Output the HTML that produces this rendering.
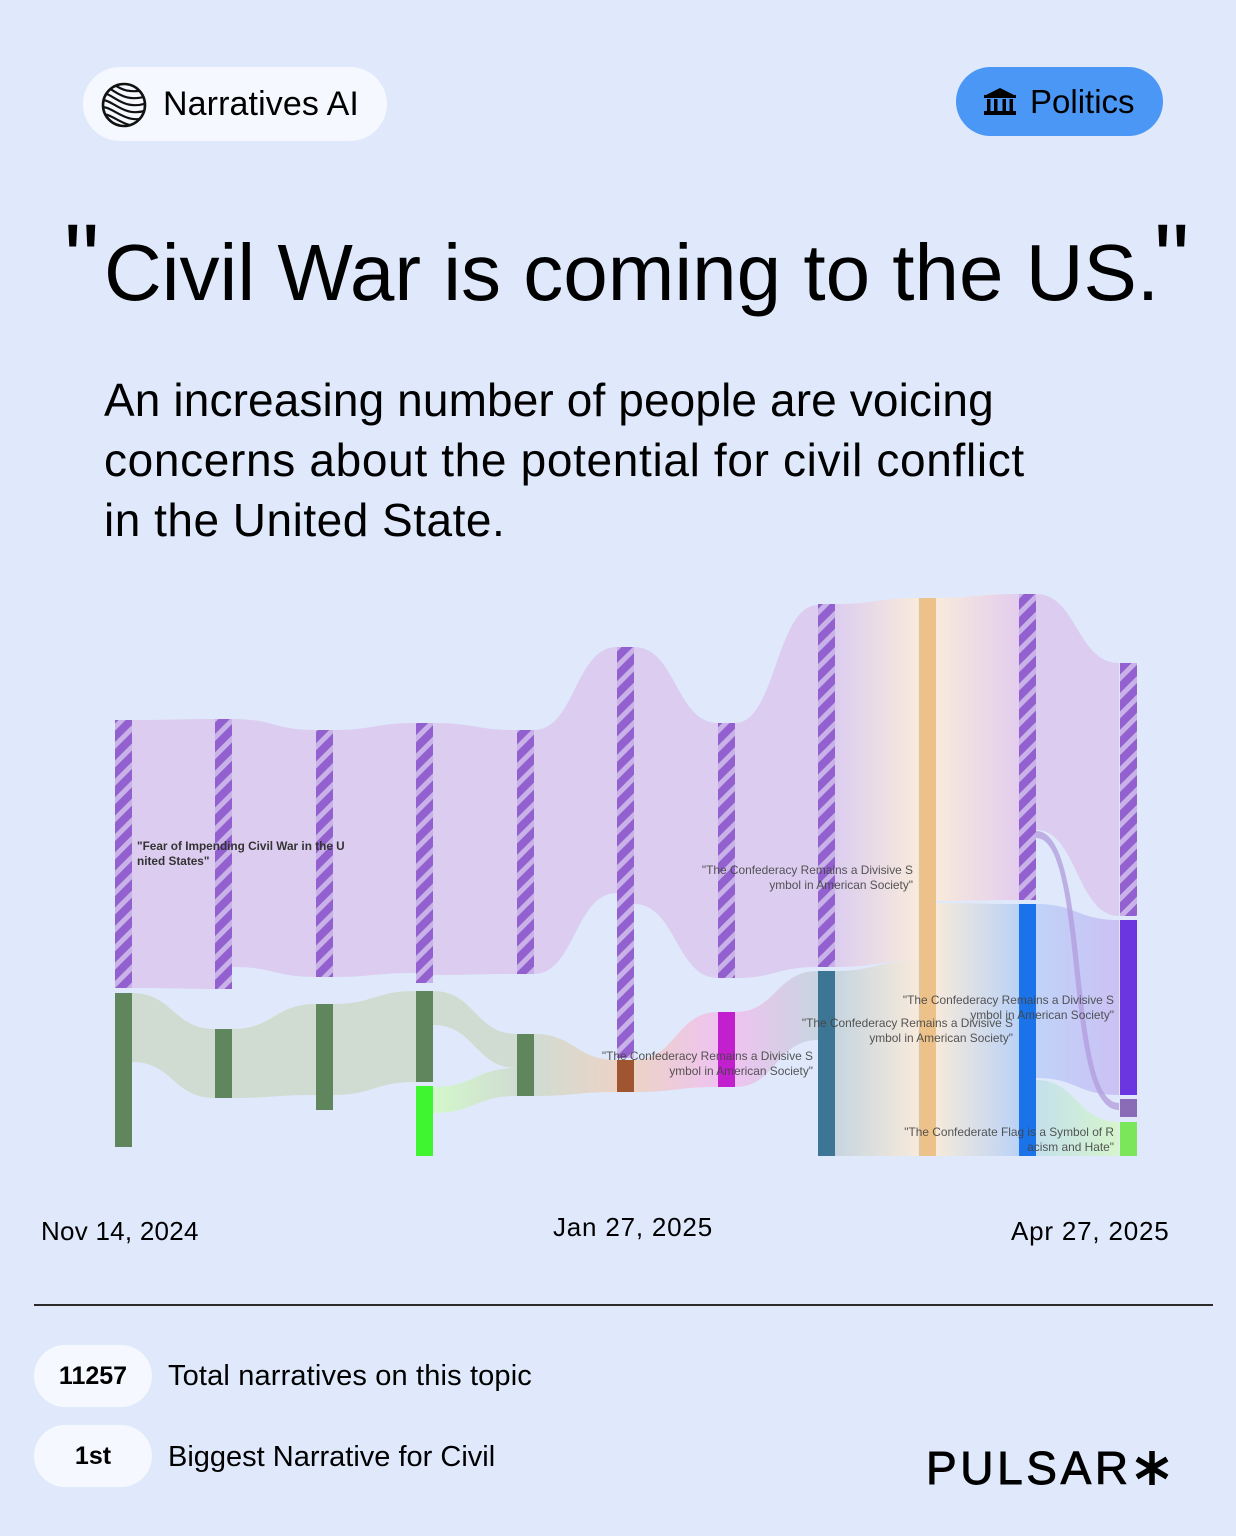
<!DOCTYPE html>
<html><head><meta charset="utf-8">
<style>
html,body{margin:0;padding:0;}
body{width:1236px;height:1536px;background:#dfe9fb;position:relative;overflow:hidden;font-family:"Liberation Sans",Arial,sans-serif;color:#000;}
.abs{position:absolute;white-space:nowrap;}
.pill{position:absolute;border-radius:40px;}
</style></head><body>

<!-- Header pills -->
<div class="pill" style="left:83px;top:67px;width:304px;height:74px;background:#f6f8ff;"></div>
<svg class="abs" style="left:0;top:0" width="1236" height="160">
  <defs><clipPath id="cc"><circle cx="124" cy="105" r="21"/></clipPath></defs>
  <g clip-path="url(#cc)" fill="none" stroke="#111" stroke-width="2.2">
    <path d="M98 80 C112 74 116 100 150 88"/>
    <path d="M98 87 C112 81 118 107 150 95"/>
    <path d="M98 94 C112 88 120 114 150 102"/>
    <path d="M98 101 C112 95 122 121 150 109"/>
    <path d="M98 108 C112 102 124 128 150 116"/>
    <path d="M98 115 C112 109 126 135 150 123"/>
    <path d="M98 122 C112 116 128 142 150 130"/>
  </g>
  <circle cx="124" cy="105" r="21" fill="none" stroke="#111" stroke-width="2.6"/>
</svg>
<div class="abs" style="left:163px;top:84px;font-size:34px;line-height:40px;letter-spacing:0.1px;">Narratives AI</div>

<div class="pill" style="left:956px;top:67px;width:207px;height:69px;background:#4b97f5;"></div>
<svg class="abs" style="left:980px;top:84px" width="40" height="34">
  <polygon points="4,12 20,4 36,12" fill="#000"/>
  <rect x="4" y="11" width="32" height="3" fill="#000"/>
  <rect x="7" y="15" width="3.5" height="12" fill="#000"/>
  <rect x="14" y="15" width="3.5" height="12" fill="#000"/>
  <rect x="22.5" y="15" width="3.5" height="12" fill="#000"/>
  <rect x="29.5" y="15" width="3.5" height="12" fill="#000"/>
  <rect x="4" y="27" width="32" height="4" fill="#000"/>
</svg>
<div class="abs" style="left:1030px;top:82px;font-size:33px;line-height:40px;">Politics</div>

<!-- Title -->
<div class="abs" style="left:64px;top:210px;font-size:100px;line-height:100px;">"</div>
<div class="abs" style="left:104px;top:227px;font-size:80px;line-height:92px;letter-spacing:0px;">Civil War is coming to the US.</div>
<div class="abs" style="left:1154px;top:210px;font-size:100px;line-height:100px;">"</div>

<!-- Subtitle -->
<div class="abs" style="left:104px;top:370px;font-size:46px;line-height:60px;letter-spacing:0.12px;">An increasing number of people are voicing</div>
<div class="abs" style="left:104px;top:430px;font-size:46px;line-height:60px;letter-spacing:0.66px;">concerns about the potential for civil conflict</div>
<div class="abs" style="left:104px;top:490px;font-size:46px;line-height:60px;letter-spacing:0.5px;">in the United State.</div>

<!-- Chart -->
<svg class="abs" style="left:0;top:0" width="1236" height="1200">
  <defs>
    <pattern id="stripes" patternUnits="userSpaceOnUse" width="13" height="13" patternTransform="rotate(-45)">
      <rect x="0" y="0" width="13" height="13" fill="#c9b2e8"/>
      <rect x="0" y="0" width="13" height="8" fill="#9360cf"/>
    </pattern>
    <linearGradient id="g89p" x1="0" x2="1"><stop offset="0" stop-color="#dccdf0"/><stop offset="1" stop-color="#f8eadb"/></linearGradient>
    <linearGradient id="g89t" x1="0" x2="1"><stop offset="0" stop-color="#c6d5e0"/><stop offset="1" stop-color="#f7eadb"/></linearGradient>
    <linearGradient id="g910p" x1="0" x2="1"><stop offset="0" stop-color="#f8eadb"/><stop offset="1" stop-color="#e3cdee"/></linearGradient>
    <linearGradient id="g910b" x1="0" x2="1"><stop offset="0" stop-color="#f6eadb"/><stop offset="1" stop-color="#bad2f7"/></linearGradient>
    <linearGradient id="g1011b" x1="0" x2="1"><stop offset="0" stop-color="#c0d3f8"/><stop offset="1" stop-color="#cbc1f3"/></linearGradient>
    <linearGradient id="g1011g" x1="0" x2="1"><stop offset="0" stop-color="#c4e0ec"/><stop offset="1" stop-color="#d6f5cc"/></linearGradient>
    <linearGradient id="g45b" x1="0" x2="1"><stop offset="0" stop-color="#d3f7cb"/><stop offset="1" stop-color="#d0dcd2"/></linearGradient>
    <linearGradient id="g56" x1="0" x2="1"><stop offset="0" stop-color="#d0dcd2"/><stop offset="1" stop-color="#ecd3c6"/></linearGradient>
    <linearGradient id="g67" x1="0" x2="1"><stop offset="0" stop-color="#ecd3c6"/><stop offset="1" stop-color="#eec3f0"/></linearGradient>
    <linearGradient id="g78" x1="0" x2="1"><stop offset="0" stop-color="#eec3f0"/><stop offset="1" stop-color="#c8d5e0"/></linearGradient>
  </defs>

  <!-- purple flows -->
  <g fill="#dccdf0">
    <path d="M132 720 C173 720 173 719 215 719 L215 989 C173 989 173 988 132 988 Z"/>
    <path d="M232 719 C274 719 274 730 316 730 L316 977 C274 977 274 967 232 967 Z"/>
    <path d="M333 730 C374 730 374 723 416 723 L416 973 C374 973 374 977 333 977 Z"/>
    <path d="M433 723 C475 723 475 730 517 730 L517 974 C475 974 475 975 433 975 Z"/>
    <path d="M534 730 C575 730 575 647 617 647 L617 893 C575 893 575 974 534 974 Z"/>
    <path d="M634 647 C676 647 676 723 718 723 L718 978 C676 978 676 904 634 904 Z"/>
    <path d="M735 723 C776 723 776 605 818 605 L818 967 C776 967 776 978 735 978 Z"/>
    <path d="M1036 594 C1077 594 1077 663 1119 663 L1119 916 C1077 916 1077 830 1036 830 Z"/>
  </g>
  <path d="M835 604 C876 604 876 598 918 598 L918 961 C876 961 876 967 835 967 Z" fill="url(#g89p)"/>
  <path d="M835 971 C876 971 876 961 918 961 L918 1156 C876 1156 876 1156 835 1156 Z" fill="url(#g89t)"/>
  <path d="M936 598 C977 598 977 594 1019 594 L1019 900 C977 900 977 901 936 901 Z" fill="url(#g910p)"/>
  <path d="M936 903 C977 903 977 904 1019 904 L1019 1156 C977 1156 977 1156 936 1156 Z" fill="url(#g910b)"/>
  <path d="M1036 904 C1077 904 1077 920 1119 920 L1119 1095 C1077 1095 1077 1078 1036 1078 Z" fill="url(#g1011b)"/>
  <path d="M1036 1080 C1077 1080 1077 1122 1119 1122 L1119 1156 C1077 1156 1077 1156 1036 1156 Z" fill="url(#g1011g)"/>
  <path d="M1036 831 C1092 831 1068 1103 1119 1103 L1119 1110 C1062 1110 1086 838 1036 838 Z" fill="#b19bdc" opacity="0.75"/>

  <!-- green flows -->
  <g fill="#d0dcd2">
    <path d="M132 993 C173 993 173 1029 215 1029 L215 1098 C173 1098 173 1062 132 1062 Z"/>
    <path d="M232 1029 C274 1029 274 1004 316 1004 L316 1095 C274 1095 274 1098 232 1098 Z"/>
    <path d="M333 1004 C374 1004 374 991 416 991 L416 1082 C374 1082 374 1095 333 1095 Z"/>
    <path d="M433 991 C475 991 475 1034 517 1034 L517 1068 C475 1068 475 1025 433 1025 Z"/>
  </g>
  <path d="M433 1087 C475 1087 475 1068 517 1068 L517 1096 C475 1096 475 1113 433 1113 Z" fill="url(#g45b)"/>
  <path d="M534 1034 C575 1034 575 1060 617 1060 L617 1092 C575 1092 575 1096 534 1096 Z" fill="url(#g56)"/>
  <path d="M634 1060 C676 1060 676 1012 718 1012 L718 1087 C676 1087 676 1092 634 1092 Z" fill="url(#g67)"/>
  <path d="M735 1012 C776 1012 776 971 818 971 L818 1040 C776 1040 776 1087 735 1087 Z" fill="url(#g78)"/>

  <!-- bars -->
  <g fill="url(#stripes)">
    <rect x="115" y="720" width="17" height="268"/>
    <rect x="215" y="719" width="17" height="270"/>
    <rect x="316" y="730" width="17" height="247"/>
    <rect x="416" y="723" width="17" height="260"/>
    <rect x="517" y="730" width="17" height="244"/>
    <rect x="617" y="647" width="17" height="411"/>
    <rect x="718" y="723" width="17" height="255"/>
    <rect x="818" y="604" width="17" height="363"/>
    <rect x="1019" y="594" width="17" height="306"/>
    <rect x="1120" y="663" width="17" height="253"/>
  </g>
  <g fill="#5f865c">
    <rect x="115" y="993" width="17" height="154"/>
    <rect x="215" y="1029" width="17" height="69"/>
    <rect x="316" y="1004" width="17" height="106"/>
    <rect x="416" y="991" width="17" height="91"/>
    <rect x="517" y="1034" width="17" height="62"/>
  </g>
  <rect x="416" y="1086" width="17" height="70" fill="#3ff52f"/>
  <rect x="617" y="1060" width="17" height="32" fill="#9f5530"/>
  <rect x="718" y="1012" width="17" height="75" fill="#c21fcf"/>
  <rect x="818" y="971" width="17" height="185" fill="#3d7594"/>
  <rect x="919" y="598" width="17" height="558" fill="#ecc28a"/>
  <rect x="1019" y="904" width="17" height="252" fill="#1a73e8"/>
  <rect x="1120" y="920" width="17" height="175" fill="#6b36e0"/>
  <rect x="1120" y="1099" width="17" height="18" fill="#8a6cb6"/>
  <rect x="1120" y="1122" width="17" height="34" fill="#7be65a"/>

  <!-- labels -->
  <g font-family="Liberation Sans, Arial, sans-serif" font-size="11.8" fill="#333" font-weight="bold">
    <text x="137" y="850">"Fear of Impending Civil War in the U</text>
    <text x="137" y="865">nited States"</text>
  </g>
  <g font-family="Liberation Sans, Arial, sans-serif" font-size="11.9" fill="#444" text-anchor="end" opacity="0.9">
    <text x="913" y="874">"The Confederacy Remains a Divisive S</text>
    <text x="913" y="889">ymbol in American Society"</text>
    <text x="813" y="1060">"The Confederacy Remains a Divisive S</text>
    <text x="813" y="1075">ymbol in American Society"</text>
    <text x="1013" y="1027">"The Confederacy Remains a Divisive S</text>
    <text x="1013" y="1042">ymbol in American Society"</text>
    <text x="1114" y="1004">"The Confederacy Remains a Divisive S</text>
    <text x="1114" y="1019">ymbol in American Society"</text>
    <text x="1114" y="1136">"The Confederate Flag is a Symbol of R</text>
    <text x="1114" y="1151">acism and Hate"</text>
  </g>
</svg>

<!-- Dates -->
<div class="abs" style="left:41px;top:1216px;font-size:26px;line-height:30px;letter-spacing:0.25px;">Nov 14, 2024</div>
<div class="abs" style="left:553px;top:1212px;font-size:26px;line-height:30px;letter-spacing:0.8px;">Jan 27, 2025</div>
<div class="abs" style="left:1011px;top:1216px;font-size:26px;line-height:30px;letter-spacing:0.8px;">Apr 27, 2025</div>

<!-- divider -->
<div class="abs" style="left:34px;top:1304px;width:1179px;height:2px;background:#2b2b2b;"></div>

<!-- stats -->
<div class="pill" style="left:34px;top:1345px;width:118px;height:62px;background:#f6f8ff;"></div>
<div class="abs" style="left:34px;top:1360px;width:118px;text-align:center;font-size:25px;line-height:32px;font-weight:bold;">11257</div>
<div class="abs" style="left:168px;top:1359px;font-size:29px;line-height:34px;letter-spacing:0.15px;">Total narratives on this topic</div>

<div class="pill" style="left:34px;top:1425px;width:118px;height:62px;background:#f6f8ff;"></div>
<div class="abs" style="left:34px;top:1440px;width:118px;text-align:center;font-size:25px;line-height:32px;font-weight:bold;">1st</div>
<div class="abs" style="left:168px;top:1440px;font-size:29px;line-height:34px;">Biggest Narrative for Civil</div>

<!-- logo -->
<div class="abs" style="left:926px;top:1443px;font-size:46px;line-height:50px;letter-spacing:3.6px;-webkit-text-stroke:0.9px #000;">PULSAR</div>
<svg class="abs" style="left:1132px;top:1448px" width="44" height="40">
  <g stroke="#000" stroke-width="5.5" stroke-linecap="butt">
    <line x1="20" y1="3" x2="20" y2="37"/>
    <line x1="5" y1="11" x2="35" y2="29"/>
    <line x1="5" y1="29" x2="35" y2="11"/>
  </g>
</svg>

</body></html>
